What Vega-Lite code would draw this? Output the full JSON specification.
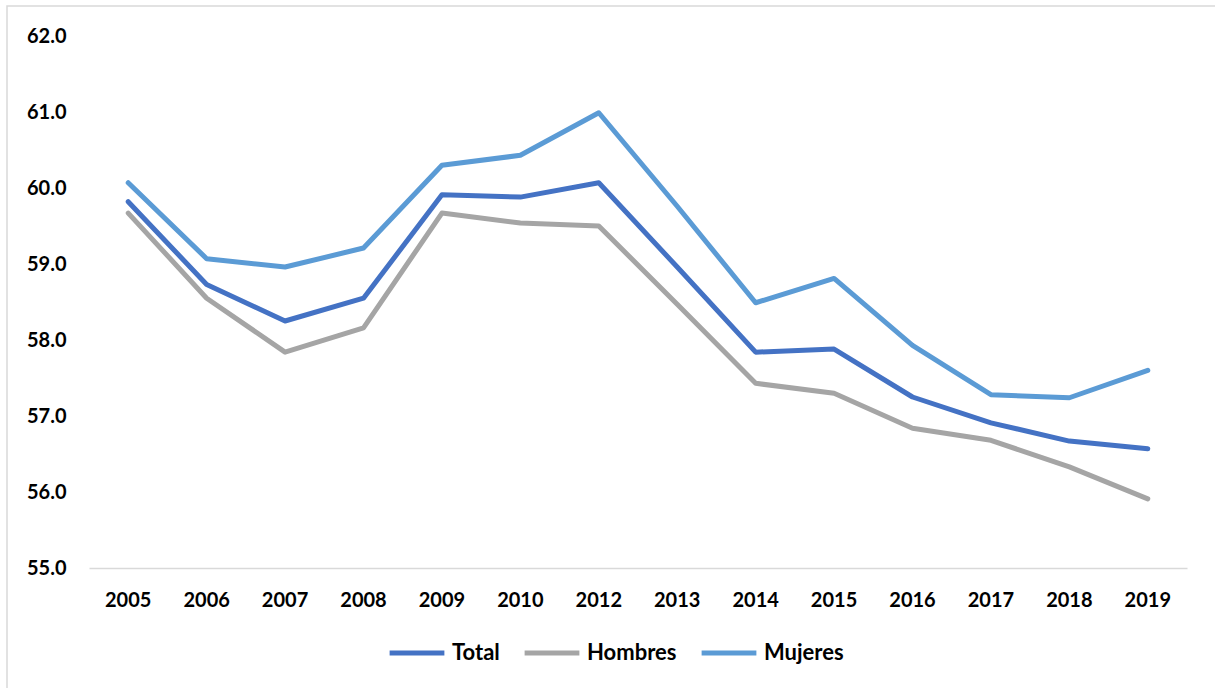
{
  "$schema": "https://vega.github.io/schema/vega-lite/v6.json",
  "width": 1220,
  "height": 700,
  "autosize": {"type": "none"},
  "padding": {"left": 7, "top": 6, "right": 0, "bottom": 0},
  "background": "white",
  "config": {
    "view": {"stroke": "#D9D9D9", "strokeWidth": 1.5},
    "font": "Lato",
    "axis": {"labelFont": "Lato", "labelFontWeight": "bold", "labelFontSize": 20, "labelColor": "#000000", "grid": false, "ticks": false, "tickSize": 0, "title": null}
  },
  "data": {
    "values": [
      {"year": "2005", "serie": "Total", "value": 59.82},
      {"year": "2006", "serie": "Total", "value": 58.73},
      {"year": "2007", "serie": "Total", "value": 58.25},
      {"year": "2008", "serie": "Total", "value": 58.55},
      {"year": "2009", "serie": "Total", "value": 59.91},
      {"year": "2010", "serie": "Total", "value": 59.88},
      {"year": "2012", "serie": "Total", "value": 60.07},
      {"year": "2013", "serie": "Total", "value": 58.96},
      {"year": "2014", "serie": "Total", "value": 57.84},
      {"year": "2015", "serie": "Total", "value": 57.88},
      {"year": "2016", "serie": "Total", "value": 57.25},
      {"year": "2017", "serie": "Total", "value": 56.91},
      {"year": "2018", "serie": "Total", "value": 56.67},
      {"year": "2019", "serie": "Total", "value": 56.57},
      {"year": "2005", "serie": "Hombres", "value": 59.67},
      {"year": "2006", "serie": "Hombres", "value": 58.55},
      {"year": "2007", "serie": "Hombres", "value": 57.84},
      {"year": "2008", "serie": "Hombres", "value": 58.16},
      {"year": "2009", "serie": "Hombres", "value": 59.67},
      {"year": "2010", "serie": "Hombres", "value": 59.54},
      {"year": "2012", "serie": "Hombres", "value": 59.50},
      {"year": "2013", "serie": "Hombres", "value": 58.47},
      {"year": "2014", "serie": "Hombres", "value": 57.43},
      {"year": "2015", "serie": "Hombres", "value": 57.30},
      {"year": "2016", "serie": "Hombres", "value": 56.84},
      {"year": "2017", "serie": "Hombres", "value": 56.68},
      {"year": "2018", "serie": "Hombres", "value": 56.33},
      {"year": "2019", "serie": "Hombres", "value": 55.91},
      {"year": "2005", "serie": "Mujeres", "value": 60.07},
      {"year": "2006", "serie": "Mujeres", "value": 59.07},
      {"year": "2007", "serie": "Mujeres", "value": 58.96},
      {"year": "2008", "serie": "Mujeres", "value": 59.21},
      {"year": "2009", "serie": "Mujeres", "value": 60.30},
      {"year": "2010", "serie": "Mujeres", "value": 60.43},
      {"year": "2012", "serie": "Mujeres", "value": 60.99},
      {"year": "2013", "serie": "Mujeres", "value": 59.76},
      {"year": "2014", "serie": "Mujeres", "value": 58.49},
      {"year": "2015", "serie": "Mujeres", "value": 58.81},
      {"year": "2016", "serie": "Mujeres", "value": 57.93},
      {"year": "2017", "serie": "Mujeres", "value": 57.28},
      {"year": "2018", "serie": "Mujeres", "value": 57.24},
      {"year": "2019", "serie": "Mujeres", "value": 57.60}
    ]
  },
  "mark": {"type": "line", "strokeWidth": 5, "strokeCap": "round", "strokeJoin": "round"},
  "encoding": {
    "x": {
      "field": "year",
      "type": "ordinal",
      "sort": null,
      "scale": {"type": "band", "range": [82, 1180], "paddingInner": 0, "paddingOuter": 0},
      "axis": {"orient": "bottom", "offset": -138, "domain": true, "domainColor": "#D9D9D9", "domainWidth": 1.5, "labelAngle": 0, "labelPadding": 22}
    },
    "y": {
      "field": "value",
      "type": "quantitative",
      "scale": {"domain": [55, 62], "range": [562, 30], "nice": false, "zero": false},
      "axis": {"orient": "left", "offset": -80, "domain": false, "values": [55, 56, 57, 58, 59, 60, 61, 62], "format": ".1f", "labelPadding": 21}
    },
    "color": {
      "field": "serie",
      "type": "nominal",
      "sort": ["Total", "Hombres", "Mujeres"],
      "scale": {"domain": ["Total", "Hombres", "Mujeres"], "range": ["#4472C4", "#A5A5A5", "#5B9BD5"]},
      "legend": {
        "title": null,
        "orient": "none",
        "direction": "horizontal",
        "legendX": 380,
        "legendY": 617,
        "padding": 0,
        "symbolType": "stroke",
        "symbolSize": 3000,
        "symbolStrokeWidth": 5,
        "labelFont": "Lato",
        "labelFontWeight": "bold",
        "labelFontSize": 22,
        "labelColor": "#000000",
        "labelOffset": 5,
        "columnPadding": 14
      }
    }
  }
}
